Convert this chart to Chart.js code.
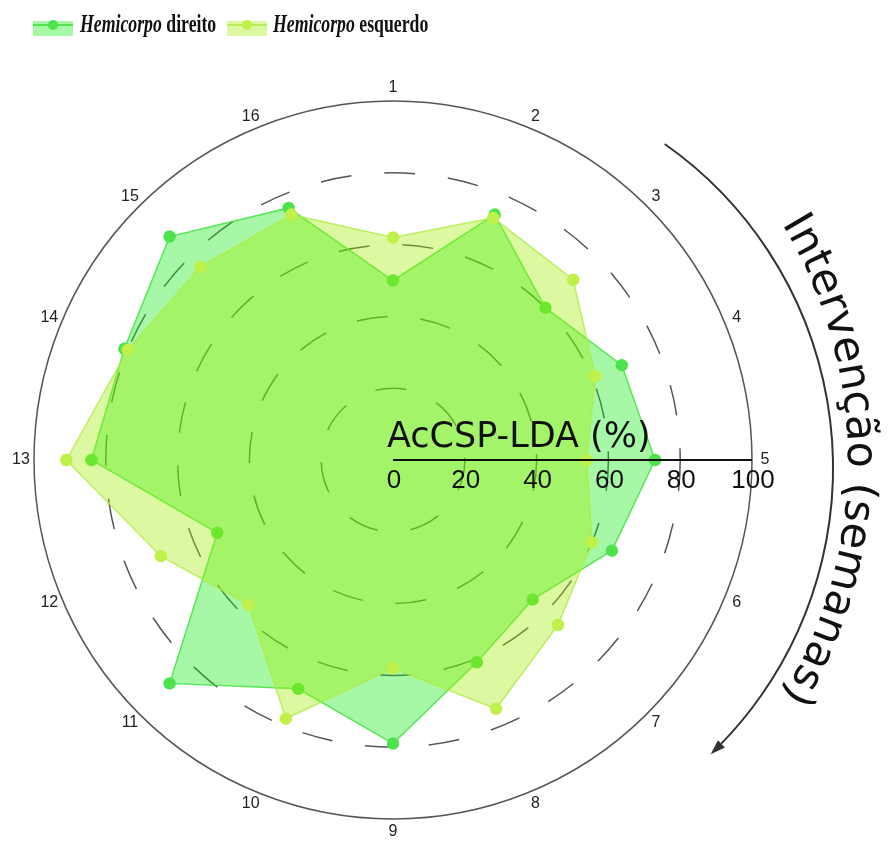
<!DOCTYPE html>
<html>
<head>
<meta charset="utf-8">
<script src="https://cdn.jsdelivr.net/npm/chart.js@4.4.1/dist/chart.umd.min.js"></script>
<style>
  body { margin: 0; background: #fff; }
  #wrap { position: relative; width: 895px; height: 846px; }
  #chart { position: absolute; left: 0; top: 0; }
  .sym { position: absolute; width: 40px; height: 15px; }
  .sym .ln { position: absolute; left: 0; right: 0; top: 3px; height: 2px; }
  .sym .dot { position: absolute; left: 15px; top: -1px; width: 10px; height: 10px; border-radius: 50%; }
  .lbl { position: absolute; top: 10px; font-family: "Liberation Serif", "Times New Roman", serif;
         font-size: 25px; font-weight: bold; color: #111; white-space: nowrap; transform: scaleX(0.71); transform-origin: left center; }
</style>
</head>
<body>
<div id="wrap">
  <canvas id="chart" width="895" height="846"></canvas>
  <div class="sym" style="left:33px;top:21px;background:rgba(20,235,20,0.38)">
    <div class="ln" style="background:rgba(60,225,60,0.8)"></div><div class="dot" style="background:#4de34d"></div>
  </div>
  <div class="lbl" style="left:80px"><i>Hemicorpo</i> direito</div>
  <div class="sym" style="left:227px;top:21px;background:rgba(160,240,0,0.37)">
    <div class="ln" style="background:rgba(175,235,70,0.8)"></div><div class="dot" style="background:#c0f04a"></div>
  </div>
  <div class="lbl" style="left:273px"><i>Hemicorpo</i> esquerdo</div>
</div>
<script>
// semanas de intervenção (eixo angular)
const semanas = ['1', '2', '3', '4', '5', '6', '7', '8', '9', '10', '11', '12', '13', '14', '15', '16'];
// AcCSP-LDA (%) por semana
const direito = [50, 74, 60, 69, 73, 66, 55, 61, 79, 69, 88, 53, 84, 81, 88, 76];
const esquerdo = [62, 73, 71, 61, 54, 60, 65, 75, 58, 78, 57, 70, 91, 80, 76, 74];
const tickValues = [0, 20, 40, 60, 80, 100];
const axisTitle = 'AcCSP-LDA (%)';
const arcTitle = 'Intervenção (semanas)';

const overlay = {
  id: 'overlay',
  afterDatasetsDraw(chart) {
    const s = chart.scales.r;
    const ctx = chart.ctx;
    const cx = s.xCenter, cy = s.yCenter;
    ctx.save();

    // rótulos das semanas
    ctx.font = '16px "Liberation Sans", Arial, sans-serif';
    ctx.fillStyle = '#222';
    ctx.textAlign = 'center';
    ctx.textBaseline = 'middle';
    semanas.forEach((l, i) => {
      const p = s.getPointPosition(i, s.drawingArea + 13);
      ctx.fillText(l, p.x, p.y);
    });

    // eixo radial horizontal
    const end = s.getDistanceFromCenterForValue(100);
    ctx.strokeStyle = '#111';
    ctx.lineWidth = 2;
    ctx.beginPath();
    ctx.moveTo(cx, cy);
    ctx.lineTo(cx + end, cy);
    ctx.stroke();

    ctx.fillStyle = '#111';
    ctx.font = '26px "Liberation Sans", Arial, sans-serif';
    tickValues.forEach(v => {
      ctx.fillText(String(v), cx + s.getDistanceFromCenterForValue(v) + 1, cy + 21);
    });

    ctx.font = '35px "DejaVu Sans", sans-serif';
    ctx.textAlign = 'left';
    ctx.textBaseline = 'alphabetic';
    ctx.fillText(axisTitle, cx - 6, cy - 13);

    // seta curva
    const ax = cx + 44, ay = cy + 8, R = 396;
    const a0 = -54.9 * Math.PI / 180, a1 = 46 * Math.PI / 180;
    const head = 13;
    ctx.strokeStyle = '#333';
    ctx.lineWidth = 2;
    ctx.beginPath();
    ctx.arc(ax, ay, R, a0, a1 - head / R);
    ctx.stroke();
    const px = ax + R * Math.cos(a1), py = ay + R * Math.sin(a1);
    const tx = -Math.sin(a1), ty = Math.cos(a1);
    const nx = Math.cos(a1), ny = Math.sin(a1);
    ctx.fillStyle = '#333';
    ctx.beginPath();
    ctx.moveTo(px + tx * 2, py + ty * 2);
    ctx.lineTo(px - tx * head + nx * 5, py - ty * head + ny * 5);
    ctx.lineTo(px - tx * head - nx * 5, py - ty * head - ny * 5);
    ctx.closePath();
    ctx.fill();

    // texto curvo
    ctx.font = '43px "DejaVu Sans", sans-serif';
    ctx.fillStyle = '#111';
    ctx.textAlign = 'center';
    const Rt = 455;
    const total = ctx.measureText(arcTitle).width;
    let acc = 0;
    for (const ch of arcTitle) {
      const w = ctx.measureText(ch).width;
      const th = (acc + w / 2 - total / 2) / Rt;
      ctx.save();
      ctx.translate(cx + Rt * Math.cos(th), cy + Rt * Math.sin(th));
      ctx.rotate(th + Math.PI / 2);
      ctx.fillText(ch, 0, 0);
      ctx.restore();
      acc += w;
    }
    ctx.restore();
  }
};

new Chart(document.getElementById('chart'), {
  type: 'radar',
  data: {
    labels: semanas,
    datasets: [{
      label: 'Hemicorpo direito',
      data: direito,
      fill: true,
      backgroundColor: 'rgba(20,235,20,0.38)',
      borderColor: 'rgba(60,225,60,0.8)',
      borderWidth: 1.5,
      pointBackgroundColor: '#4de34d',
      pointBorderColor: '#4de34d',
      pointRadius: 5.5,
      order: 1
    }, {
      label: 'Hemicorpo esquerdo',
      data: esquerdo,
      fill: true,
      backgroundColor: 'rgba(160,240,0,0.37)',
      borderColor: 'rgba(175,235,70,0.8)',
      borderWidth: 1.5,
      pointBackgroundColor: '#c0f04a',
      pointBorderColor: '#c0f04a',
      pointRadius: 5.5,
      order: 0
    }]
  },
  options: {
    responsive: false,
    animation: false,
    devicePixelRatio: 1,
    layout: { padding: { left: 34, right: 143, top: 101, bottom: 27 } },
    plugins: { legend: { display: false }, tooltip: { enabled: false } },
    scales: {
      r: {
        min: 0,
        max: 100,
        ticks: { display: false, stepSize: 20 },
        angleLines: { display: false },
        pointLabels: { display: false },
        grid: { circular: true, color: '#555', lineWidth: 1.5 },
        border: { dash: ctx => ctx.index === 5 ? [] : [31, 33] }
      }
    }
  },
  plugins: [overlay]
});
</script>
</body>
</html>
